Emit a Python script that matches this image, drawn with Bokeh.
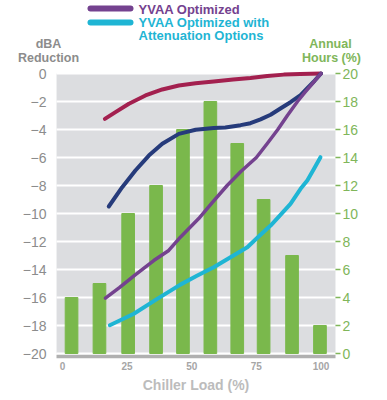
from bokeh.plotting import figure
from bokeh.models import Range1d, LinearAxis, FixedTicker, BoxAnnotation
from bokeh.core.properties import value
from bokeh.embed import file_html
from bokeh.resources import INLINE

# ---- data ----
bar_load = [3.5, 14.3, 25.4, 36.2, 46.6, 57.2, 67.6, 77.8, 88.8, 99.6]
bar_hours = [4, 5, 10, 12, 16, 18, 15, 11, 7, 2]

red_x = [16.4, 20.5, 25.7, 32.1, 38.6, 45, 51.5, 58.5, 66, 72.7, 79.2, 85.6, 92, 100]
red_y = [-3.24, -2.76, -2.16, -1.57, -1.14, -0.86, -0.69, -0.57, -0.43, -0.32, -0.18, -0.08, -0.03, 0]

navy_x = [17.9, 23.1, 28.2, 33.4, 38.6, 45, 51.5, 58.5, 63, 68.9, 72.7, 76.6, 80.5, 84.3, 88.2, 92.1, 95, 97.5, 100]
navy_y = [-9.5, -8.12, -6.93, -5.86, -5.02, -4.31, -4.02, -3.9, -3.86, -3.69, -3.55, -3.28, -2.95, -2.5, -2.05, -1.55, -1.0, -0.52, 0]

purple_x = [16.6, 22, 28, 35.3, 41.1, 45.6, 52.7, 58, 63.7, 69, 75, 79, 83.3, 87, 90.9, 94, 97, 100]
purple_y = [-16.05, -15.3, -14.4, -13.36, -12.64, -11.69, -10.36, -9.2, -8.0, -7.0, -6.0, -5.05, -4.0, -3.0, -2.0, -1.3, -0.65, 0]

cyan_x = [18.3, 27.6, 36.5, 45.6, 52, 58.5, 65, 71.5, 76, 80.5, 84.5, 88.2, 92.1, 94.7, 97.3, 99.8]
cyan_y = [-17.98, -17.16, -16.12, -15.08, -14.45, -13.84, -13.12, -12.41, -11.63, -10.86, -10.06, -9.31, -8.24, -7.64, -6.8, -5.98]

left_ticks = [-20, -18, -16, -14, -12, -10, -8, -6, -4, -2, 0]
right_ticks = [0, 2, 4, 6, 8, 10, 12, 14, 16, 18, 20]
x_ticks = [0, 25, 50, 75, 100]

legend_names = ["YVAA Optimized", "YVAA Optimized with", "Attenuation Options"]
left_title = ["dBA", "Reduction"]
right_title = ["Annual", "Hours (%)"]

# ---- layout constants (pixels -> data) ----
W, H = 380, 398
PX_X = 2.585          # px per % load
PX_Y = 14.0           # px per dBA
X0_PX, Y0_PX = 62, 73  # pixel position of load 0 / dBA 0
XMIN, XMAX = -2.3, 105.6   # plot area extent (load units)
YMIN, YMAX = -20.0, 0.0    # plot area extent (dBA)
AXIS_Y = -20.18

def dx(px):
    return (px - X0_PX) / PX_X

def dy(py):
    return (Y0_PX - py) / PX_Y

# ---- colours ----
GREEN = "#7ab84c"
GREEN_TXT = "#80b65a"
GREY_TXT = "#8c8c8c"
RED = "#a3204f"
NAVY = "#263b7b"
PURPLE = "#74428f"
CYAN = "#1fb5d4"
FONT = "Liberation Sans"

p = figure(width=W, height=H,
           x_range=Range1d(dx(0), dx(W)), y_range=Range1d(dy(H), dy(0)),
           output_backend="svg", toolbar_location=None, min_border=0,
           x_axis_type=None, y_axis_type=None)
p.background_fill_color = "white"
p.border_fill_color = "white"
p.outline_line_color = None
p.xgrid.grid_line_color = None
p.ygrid.grid_line_color = None

p.extra_y_ranges = {"hours": Range1d(dy(H) + 20, dy(0) + 20)}

# plot-area background
p.add_layout(BoxAnnotation(left=XMIN, right=XMAX, bottom=YMIN, top=YMAX,
                           fill_color="#dcdde0", fill_alpha=1, line_color=None,
                           level="underlay"))
# horizontal grid lines
p.segment(x0=XMIN, x1=XMAX, y0=left_ticks, y1=left_ticks,
          line_color="white", line_width=2)

# bars
p.vbar(x=bar_load, top=bar_hours, bottom=0, width=4.9, color=GREEN,
       y_range_name="hours")

# lines
for xs, ys, c, w in [(red_x, red_y, RED, 4), (navy_x, navy_y, NAVY, 4),
                     (purple_x, purple_y, PURPLE, 3.5), (cyan_x, cyan_y, CYAN, 4)]:
    p.line(xs, ys, line_color=c, line_width=w, line_cap="round", line_join="round")

# left axis
ya = LinearAxis(ticker=FixedTicker(ticks=left_ticks), fixed_location=XMIN)
ya.axis_line_color = None
ya.major_tick_line_color = None
ya.minor_tick_line_color = None
ya.major_label_standoff = 4
ya.major_label_text_font = FONT
ya.major_label_text_font_size = "14px"
ya.major_label_text_color = GREY_TXT
p.add_layout(ya, "left")

# right axis
ra = LinearAxis(y_range_name="hours", ticker=FixedTicker(ticks=right_ticks),
                fixed_location=XMAX)
ra.axis_line_color = None
ra.major_tick_line_color = GREEN_TXT
ra.major_tick_line_width = 1.5
ra.major_tick_in = 0
ra.major_tick_out = 5
ra.minor_tick_line_color = None
ra.major_label_standoff = 2
ra.major_label_text_font = FONT
ra.major_label_text_font_size = "14px"
ra.major_label_text_color = GREEN_TXT
p.add_layout(ra, "right")

# x axis
xa = LinearAxis(ticker=FixedTicker(ticks=x_ticks), fixed_location=AXIS_Y,
                bounds=(XMIN, XMAX))
xa.axis_line_color = "#b0b0b0"
xa.axis_line_width = 3.5
xa.axis_line_cap = "butt"
xa.major_tick_line_color = None
xa.minor_tick_line_color = None
xa.major_label_standoff = 0
xa.major_label_text_font = FONT
xa.major_label_text_font_size = "10px"
xa.major_label_text_font_style = "bold"
xa.major_label_text_color = "#a6a6a6"
xa.axis_label = "Chiller Load (%)"
xa.axis_label_standoff = 3
xa.axis_label_text_font = FONT
xa.axis_label_text_font_size = "14px"
xa.axis_label_text_font_style = "bold"
xa.axis_label_text_color = "#bcbcbc"
p.add_layout(xa, "below")

# axis titles
p.text(x=[dx(48), dx(48)], y=[dy(43), dy(57)], text=left_title,
       text_color=GREY_TXT, text_font=value(FONT), text_font_size="12.5px",
       text_font_style="bold", text_align="center", text_baseline="middle")
p.text(x=[dx(330), dx(331)], y=[dy(43), dy(57)], text=right_title,
       text_color=GREEN_TXT, text_font=value(FONT), text_font_size="12.5px",
       text_font_style="bold", text_align="center", text_baseline="middle")

# legend
p.segment(x0=[dx(90), dx(90)], y0=[dy(8), dy(22)], x1=[dx(130), dx(130)],
          y1=[dy(8), dy(22)], line_color=[PURPLE, CYAN], line_width=6,
          line_cap="round")
p.text(x=[dx(138)] * 3, y=[dy(8.5), dy(22), dy(34.5)], text=legend_names,
       text_color=[PURPLE, CYAN, CYAN], text_font=value(FONT),
       text_font_size="13px", text_font_style="bold",
       text_align="left", text_baseline="middle")

open("out.html", "w").write(file_html(p, INLINE))
